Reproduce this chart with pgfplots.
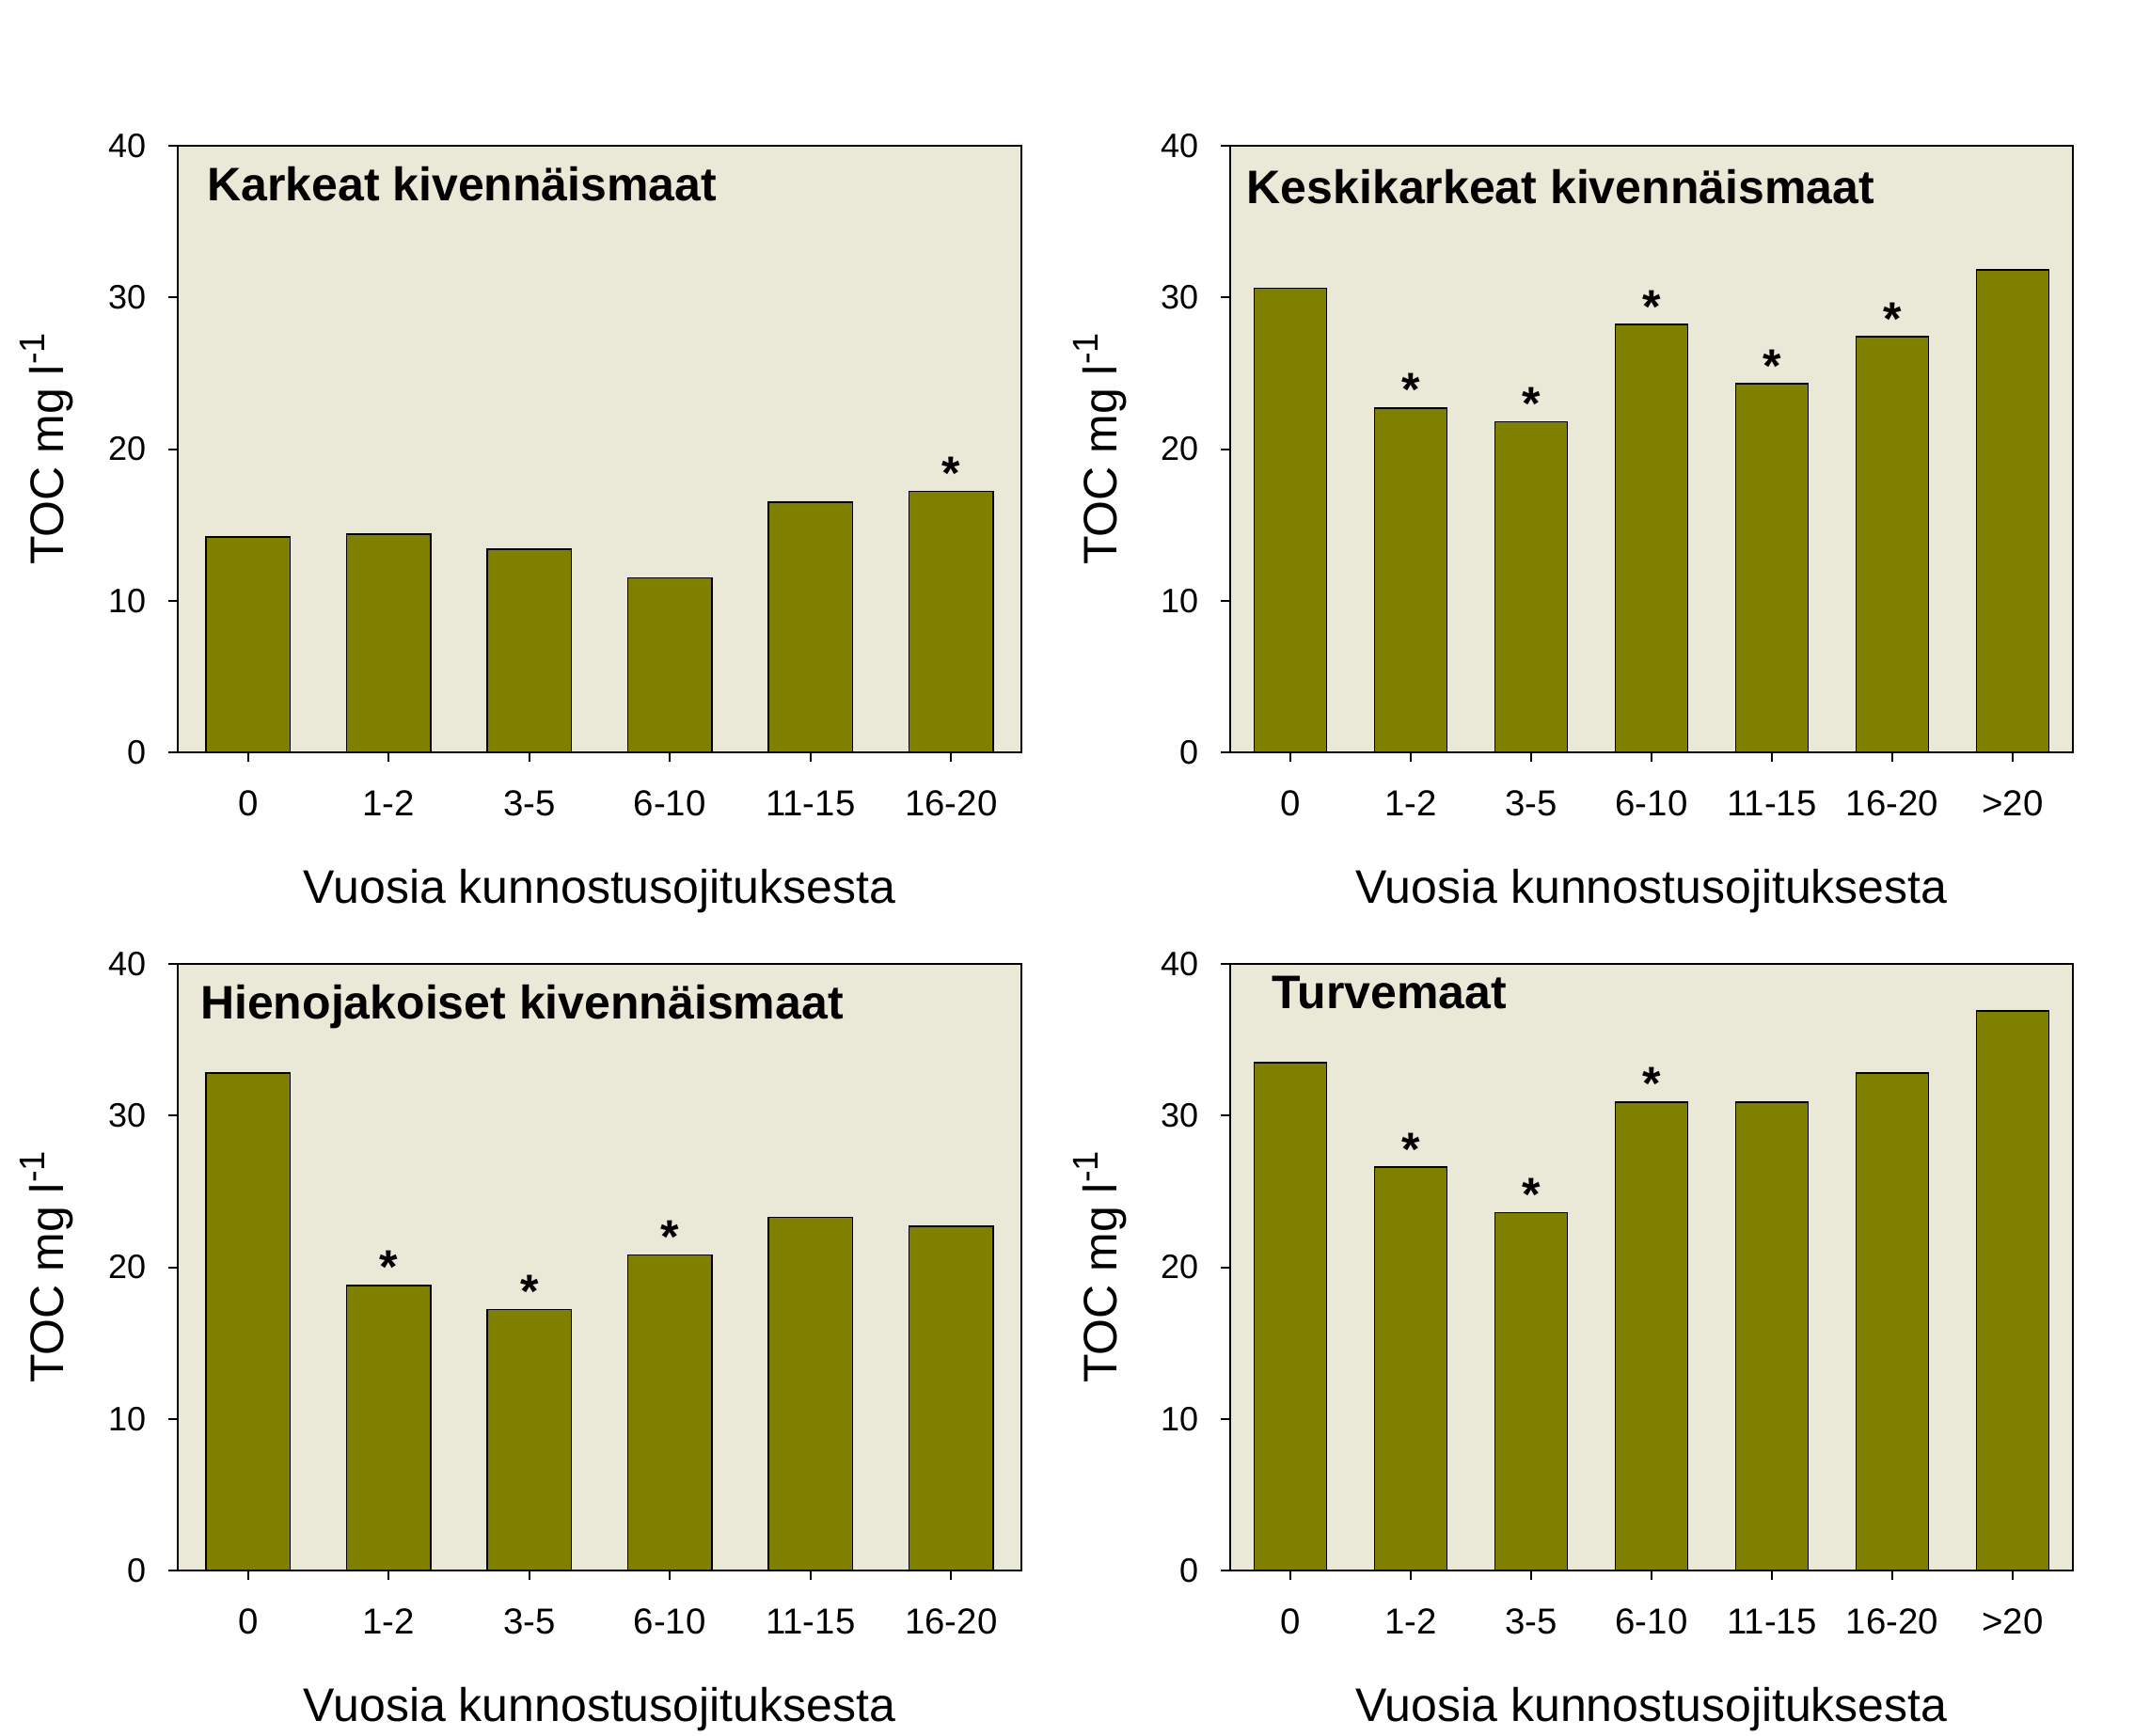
\documentclass[border=0pt]{standalone}
\usepackage{fontspec}
\setmainfont{Liberation Sans}
\usepackage{pgfplots}
\pgfplotsset{compat=1.18}

\definecolor{barc}{RGB}{128,128,0}
\definecolor{bgc}{RGB}{234,232,214}

\tikzset{ttl/.style={anchor=base west, inner sep=0pt, font=\bfseries\fontsize{12.5}{12.5}\selectfont}}

\pgfplotsset{
  panel/.style={
    scale only axis, height=161.25pt,
    anchor=south west,
    ymin=0, ymax=40, ytick={0,10,20,30,40},
    axis background/.style={fill=bgc},
    axis line style={line width=0.5pt},
    tick align=outside, xtick pos=left, ytick pos=left,
    major tick length=2.5pt,
    every tick/.style={black, line width=0.5pt},
    /pgf/number format/assume math mode=true,
    yticklabel style={anchor=east, inner sep=0pt, xshift=-5.75pt,
      font=\fontsize{9}{9}\selectfont},
    xticklabel style={anchor=north, inner sep=0pt, yshift=-7.5pt,
      font=\fontsize{9.6}{9.6}\selectfont},
    xlabel={Vuosia kunnostusojituksesta},
    ylabel={TOC mg l\raisebox{5pt}{\fontsize{9.5}{9.5}\selectfont -1}},
    xlabel style={at={([yshift=-40pt]axis description cs:0.5,0)}, anchor=base,
      inner sep=0pt, font=\fontsize{12.5}{12.5}\selectfont},
    ylabel style={at={([xshift=-30.25pt]axis description cs:0,0.5)}, anchor=base,
      inner sep=0pt, font=\fontsize{12.5}{12.5}\selectfont},
    ybar, bar width=0.6,
    nodes near coords, point meta=explicit symbolic,
    every node near coord/.append style={anchor=base, inner sep=0pt, yshift=0.5pt,
      font=\bfseries\fontsize{12.5}{12.5}\selectfont},
  },
  six/.style={panel, width=224.25pt, xmin=-0.5, xmax=5.5, xtick={0,...,5},
    xticklabels={0,1-2,3-5,6-10,11-15,16-20}},
  seven/.style={panel, width=224pt, xmin=-0.5, xmax=6.5, xtick={0,...,6},
    xticklabels={0,1-2,3-5,6-10,11-15,16-20,>20}},
  bars/.style={fill=barc, draw=black, line width=0.4pt},
}

\begin{document}
\begin{tikzpicture}
\path[use as bounding box] (0,0) rectangle (571.5pt,461.25pt);

% Karkeat kivennaismaat
\begin{axis}[six, at={(47.25pt,261.25pt)}]
\addplot[bars] coordinates {(0,14.2)[] (1,14.4)[] (2,13.4)[] (3,11.5)[] (4,16.5)[] (5,17.2)[*]};
\node[ttl] at (rel axis cs:0.034,0.909) {Karkeat kivennäismaat};
\end{axis}

% Keskikarkeat kivennaismaat
\begin{axis}[seven, at={(327pt,261.25pt)}]
\addplot[bars] coordinates {(0,30.6)[] (1,22.7)[*] (2,21.8)[*] (3,28.2)[*] (4,24.3)[*] (5,27.4)[*] (6,31.8)[]};
\node[ttl] at (rel axis cs:0.019,0.905) {Keskikarkeat kivennäismaat};
\end{axis}

% Hienojakoiset kivennaismaat
\begin{axis}[six, at={(47.25pt,43.75pt)}]
\addplot[bars] coordinates {(0,32.8)[] (1,18.8)[*] (2,17.2)[*] (3,20.8)[*] (4,23.3)[] (5,22.7)[]};
\node[ttl] at (rel axis cs:0.026,0.91) {Hienojakoiset kivennäismaat};
\end{axis}

% Turvemaat
\begin{axis}[seven, at={(327pt,43.75pt)}]
\addplot[bars] coordinates {(0,33.5)[] (1,26.6)[*] (2,23.6)[*] (3,30.9)[*] (4,30.9)[] (5,32.8)[] (6,36.9)[]};
\node[ttl] at (rel axis cs:0.049,0.926) {Turvemaat};
\end{axis}
\end{tikzpicture}
\end{document}
